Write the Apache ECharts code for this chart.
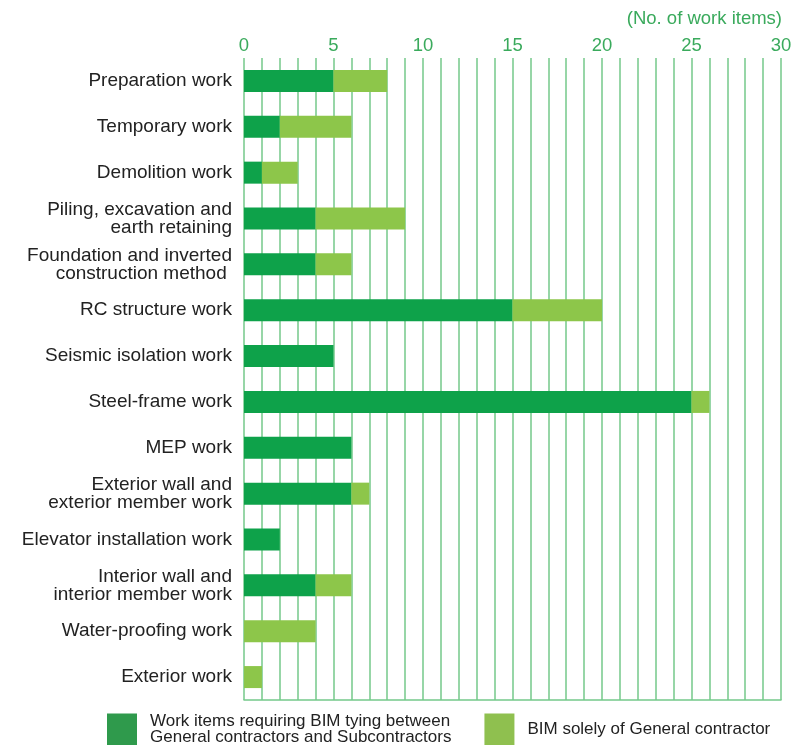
<!DOCTYPE html>
<html>
<head>
<meta charset="utf-8">
<script src="https://cdn.jsdelivr.net/npm/echarts@6/dist/echarts.min.js"></script>
<style>
  html, body { margin: 0; padding: 0; background: #ffffff; }
  #chart { width: 803px; height: 745px; }
</style>
</head>
<body>
<div id="chart"></div>
<script>
// Work categories, top to bottom
const categories = [
  'Preparation work',
  'Temporary work',
  'Demolition work',
  'Piling, excavation and\nearth retaining',
  'Foundation and inverted\nconstruction method ',
  'RC structure work',
  'Seismic isolation work',
  'Steel-frame work',
  'MEP work',
  'Exterior wall and\nexterior member work',
  'Elevator installation work',
  'Interior wall and\ninterior member work',
  'Water-proofing work',
  'Exterior work'
];

// Work items requiring BIM tying between general contractors and subcontractors
const tyingItems = [5, 2, 1, 4, 4, 15, 5, 25, 6, 6, 2, 4, 0, 0];
// Work items using BIM solely of the general contractor
const soleItems  = [3, 4, 2, 5, 2, 5, 0, 1, 0, 1, 0, 2, 4, 1];

const tickLabels = [0, 5, 10, 15, 20, 25, 30];

const seriesNames = [
  'Work items requiring BIM tying between\nGeneral contractors and Subcontractors',
  'BIM solely of General contractor'
];

const FONT = 'Liberation Sans, Arial, sans-serif';
const GREEN_TEXT = '#3aaa5c';
const GRID_LINE = '#74c98a';

const chart = echarts.init(document.getElementById('chart'), null, { renderer: 'canvas' });

chart.setOption({
  animation: false,
  textStyle: { fontFamily: FONT },
  title: {
    text: '(No. of work items)',
    right: 21,
    top: 9,
    padding: 0,
    textStyle: { color: GREEN_TEXT, fontSize: 18.5, fontWeight: 'normal', fontFamily: FONT }
  },
  legend: {
    left: 107,
    top: 713,
    padding: 0,
    itemWidth: 30,
    itemHeight: 32,
    itemGap: 33,
    icon: 'rect',
    textStyle: { color: '#222', fontSize: 17, lineHeight: 16, padding: [0, 0, 0, 8] },
    data: [
      { name: seriesNames[0], itemStyle: { color: '#2f9a4c' } },
      { name: seriesNames[1], itemStyle: { color: '#8fc04f' } }
    ]
  },
  grid: { left: 244, right: 22, top: 58, bottom: 45, containLabel: false },
  xAxis: [
    {
      type: 'value',
      position: 'top',
      min: 0,
      max: 30,
      interval: 1,
      axisLine: { show: false },
      axisTick: { show: false },
      axisLabel: {
        color: GREEN_TEXT,
        fontSize: 18.5,
        margin: 3,
        formatter: v => (tickLabels.indexOf(v) >= 0 ? String(v) : '')
      },
      splitLine: { show: true, lineStyle: { color: GRID_LINE, width: 1.5 } }
    },
    {
      type: 'value',
      position: 'bottom',
      min: 0,
      max: 30,
      interval: 1,
      axisLine: { show: true, onZero: false, lineStyle: { color: GRID_LINE, width: 1.5 } },
      axisTick: { show: false },
      axisLabel: { show: false },
      splitLine: { show: false }
    }
  ],
  yAxis: {
    type: 'category',
    inverse: true,
    data: categories,
    axisLine: { show: false },
    axisTick: { show: false },
    axisLabel: {
      color: '#222',
      fontSize: 19,
      lineHeight: 18,
      margin: 12,
      align: 'right'
    }
  },
  series: [
    {
      name: seriesNames[0],
      type: 'bar',
      stack: 'items',
      barWidth: 22,
      itemStyle: { color: '#0ea24a' },
      data: tyingItems
    },
    {
      name: seriesNames[1],
      type: 'bar',
      stack: 'items',
      barWidth: 22,
      itemStyle: { color: '#8dc64a' },
      data: soleItems
    }
  ]
});
</script>
</body>
</html>
